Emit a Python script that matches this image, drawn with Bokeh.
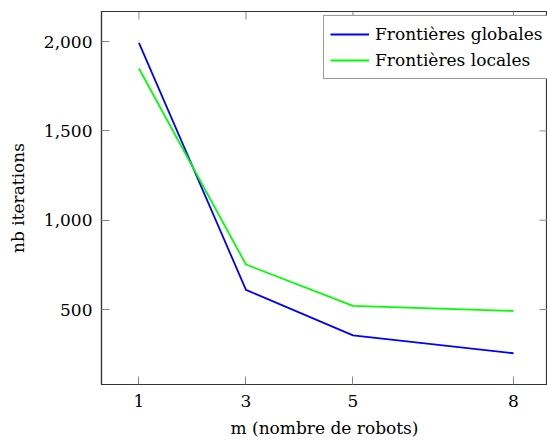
import math
from bokeh.plotting import figure
from bokeh.models import Range1d, FixedTicker, NumeralTickFormatter, Legend, LegendItem
from bokeh.embed import file_html
from bokeh.resources import INLINE

robots = [1, 3, 5, 8]
globales = [1993, 610, 355, 255]
locales = [1850, 752, 520, 492]
x_ticks = [1, 3, 5, 8]
y_ticks = [500, 1000, 1500, 2000]

FONT = "DejaVu Serif"
FS = "17px"

X0, X1 = 0.3, 8.635
Y0, Y1 = 80, 2169

p = figure(width=547, height=447, output_backend="svg", toolbar_location=None,
           x_range=Range1d(X0, X1), y_range=Range1d(Y0, Y1),
           min_border_left=101, min_border_right=0, min_border_top=11, min_border_bottom=63)
p.xgrid.visible = False
p.ygrid.visible = False
p.outline_line_color = "#333333"
p.outline_line_width = 1.2
p.background_fill_color = "white"
p.border_fill_color = "white"

r1 = p.line(robots, globales, line_color="#0000ff", line_width=1.8)
r2 = p.line(robots, locales, line_color="#00ff00", line_width=1.8)

for ax in (p.xaxis[0], p.yaxis[0]):
    ax.major_tick_in = 8
    ax.major_tick_out = 0
    ax.minor_tick_line_color = None
    ax.major_tick_line_color = "#888888"
    ax.axis_line_color = "#333333"
    ax.axis_line_width = 1.2
    ax.major_label_text_font = FONT
    ax.major_label_text_font_size = FS
    ax.major_label_text_color = "black"
    ax.axis_label_text_font = FONT
    ax.axis_label_text_font_size = FS
    ax.axis_label_text_font_style = "normal"
    ax.axis_label_text_color = "black"

p.xaxis[0].ticker = FixedTicker(ticks=x_ticks)
p.yaxis[0].ticker = FixedTicker(ticks=y_ticks)
p.yaxis[0].formatter = NumeralTickFormatter(format="0,0")
p.xaxis[0].major_label_standoff = 10
p.yaxis[0].major_label_standoff = 9
p.xaxis[0].axis_label = "m (nombre de robots)"
p.yaxis[0].axis_label = "nb iterations"
p.xaxis[0].axis_label_standoff = 8
p.yaxis[0].axis_label_standoff = 13

# mirrored inward ticks on top and right edges
p.ray(x=x_ticks, y=[Y1] * len(x_ticks), length=8, length_units="screen",
      angle=-math.pi / 2, line_color="#888888", line_width=1)
p.ray(x=[X1] * len(y_ticks), y=y_ticks, length=8, length_units="screen",
      angle=math.pi, line_color="#888888", line_width=1)

legend = Legend(items=[LegendItem(label="Frontières globales", renderers=[r1]),
                       LegendItem(label="Frontières locales", renderers=[r2])],
                location=(222, 305), orientation="vertical")
legend.label_text_font = FONT
legend.label_text_font_size = FS
legend.label_text_color = "black"
legend.glyph_width = 39
legend.glyph_height = 24
legend.label_height = 24
legend.label_width = 160
legend.label_standoff = 6
legend.padding = 6
legend.spacing = 2
legend.margin = 0
legend.border_line_color = "#333333"
legend.border_line_width = 1
legend.background_fill_alpha = 1
p.add_layout(legend, "center")

open("out.html", "w").write(file_html(p, INLINE))
